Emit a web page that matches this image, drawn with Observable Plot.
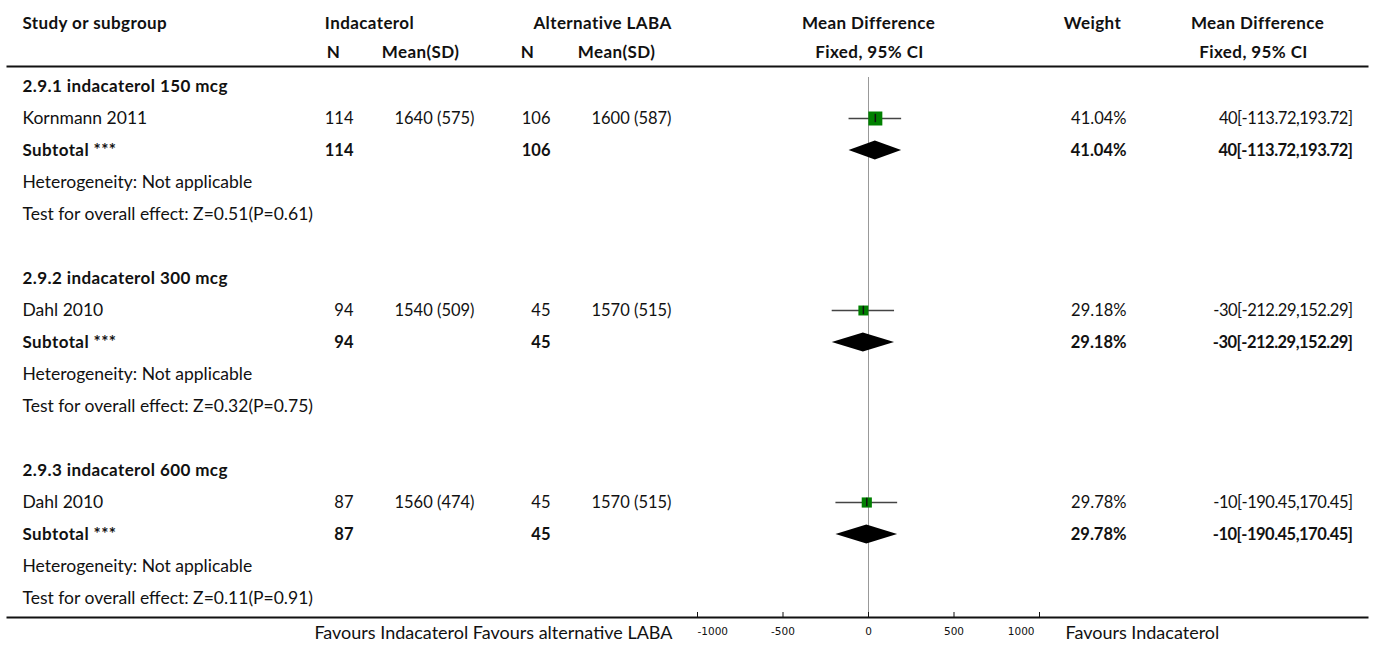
<!DOCTYPE html>
<html>
<head>
<meta charset="utf-8">
<script src="https://cdn.jsdelivr.net/npm/d3@7"></script>
<script src="https://cdn.jsdelivr.net/npm/@observablehq/plot@0.6"></script>
<style>
  html, body { margin: 0; padding: 0; background: #fff; }
  #chart svg { display: block; }
  /* tighter figures for the confidence-interval column, looser bold labels */
  g[aria-description="ci"] text { letter-spacing: -0.5px; }
  g[aria-description="bold-label"] text { letter-spacing: 0.4px; }
</style>
</head>
<body>
<div id="chart"></div>
<script>
// Comparison 2.9: indacaterol versus alternative LABA
const subgroupTitles = ["2.9.1 indacaterol 150 mcg", "2.9.2 indacaterol 300 mcg", "2.9.3 indacaterol 600 mcg"];
const studyNames = ["Kornmann 2011", "Dahl 2010", "Dahl 2010"];
const indacaterolN = [114, 94, 87];
const indacaterolMean = [1640, 1540, 1560];
const indacaterolSD = [575, 509, 474];
const alternativeN = [106, 45, 45];
const alternativeMean = [1600, 1570, 1570];
const alternativeSD = [587, 515, 515];
const meanDiff = [40, -30, -10];
const ciLow = [-113.72, -212.29, -190.45];
const ciHigh = [193.72, 152.29, 170.45];
const weights = [41.04, 29.18, 29.78];
const zValues = [0.51, 0.32, 0.11];
const pValues = [0.61, 0.75, 0.91];
const xTicks = [-1000, -500, 0, 500, 1000];
const leftFavours = "Favours Indacaterol Favours alternative LABA";
const rightFavours = "Favours Indacaterol";

// page layout
const W = 1375, H = 646;
const M = {left: 7, right: 8, top: 66, bottom: 29};
const FONT = "Lato";
const TEXT_SIZE = 17.5, NUM_SIZE = 16.5, BOLD_SIZE = 17;
const ROWS_PER_GROUP = 6;

const cols = {
  study:   {x: 22,   anchor: "start", size: TEXT_SIZE},
  indN:    {x: 353,  anchor: "end",   size: NUM_SIZE},
  indMean: {x: 474,  anchor: "end",   size: NUM_SIZE},
  altN:    {x: 550,  anchor: "end",   size: NUM_SIZE},
  altMean: {x: 671,  anchor: "end",   size: NUM_SIZE},
  weight:  {x: 1126, anchor: "end",   size: NUM_SIZE},
  ci:      {x: 1352, anchor: "end",   size: NUM_SIZE}
};

const headers = [
  {text: "Study or subgroup", x: 22,   y: 23, anchor: "start"},
  {text: "Indacaterol",       x: 369,  y: 23, anchor: "middle"},
  {text: "Alternative LABA",  x: 602,  y: 23, anchor: "middle"},
  {text: "Mean Difference",   x: 868,  y: 23, anchor: "middle"},
  {text: "Weight",            x: 1092, y: 23, anchor: "middle"},
  {text: "Mean Difference",   x: 1257, y: 23, anchor: "middle"},
  {text: "N",                 x: 333,  y: 52, anchor: "middle"},
  {text: "Mean(SD)",          x: 420,  y: 52, anchor: "middle"},
  {text: "N",                 x: 527,  y: 52, anchor: "middle"},
  {text: "Mean(SD)",          x: 616,  y: 52, anchor: "middle"},
  {text: "Fixed, 95% CI",     x: 869,  y: 52, anchor: "middle"},
  {text: "Fixed, 95% CI",     x: 1253, y: 52, anchor: "middle"}
];

// table cells and forest-plot records
const cells = [];
const studies = [];
const diamonds = [];
subgroupTitles.forEach((title, g) => {
  const r0 = g * ROWS_PER_GROUP;
  const ci = `${meanDiff[g]}[${ciLow[g].toFixed(2)},${ciHigh[g].toFixed(2)}]`;
  const w = `${weights[g].toFixed(2)}%`;
  cells.push({row: r0, col: "study", text: title, bold: true});
  // study row
  cells.push({row: r0 + 1, col: "study", text: studyNames[g]});
  cells.push({row: r0 + 1, col: "indN", text: String(indacaterolN[g])});
  cells.push({row: r0 + 1, col: "indMean", text: `${indacaterolMean[g]} (${indacaterolSD[g]})`});
  cells.push({row: r0 + 1, col: "altN", text: String(alternativeN[g])});
  cells.push({row: r0 + 1, col: "altMean", text: `${alternativeMean[g]} (${alternativeSD[g]})`});
  cells.push({row: r0 + 1, col: "weight", text: w});
  cells.push({row: r0 + 1, col: "ci", text: ci});
  // subtotal row
  cells.push({row: r0 + 2, col: "study", text: "Subtotal ***", bold: true});
  cells.push({row: r0 + 2, col: "indN", text: String(indacaterolN[g]), bold: true});
  cells.push({row: r0 + 2, col: "altN", text: String(alternativeN[g]), bold: true});
  cells.push({row: r0 + 2, col: "weight", text: w, bold: true});
  cells.push({row: r0 + 2, col: "ci", text: ci, bold: true});
  cells.push({row: r0 + 3, col: "study", text: "Heterogeneity: Not applicable"});
  cells.push({row: r0 + 4, col: "study", text: `Test for overall effect: Z=${zValues[g].toFixed(2)}(P=${pValues[g].toFixed(2)})`});

  studies.push({row: r0 + 1, md: meanDiff[g], lo: ciLow[g], hi: ciHigh[g], weight: weights[g]});
  const rs = r0 + 2, half = 0.3;
  diamonds.push({g, x: ciLow[g], y1: rs, y2: rs});
  diamonds.push({g, x: meanDiff[g], y1: rs - half, y2: rs + half});
  diamonds.push({g, x: ciHigh[g], y1: rs, y2: rs});
});
const lastRow = (subgroupTitles.length - 1) * ROWS_PER_GROUP + 4;

// one text mark per column and weight
const cellMarks = [];
for (const [key, c] of Object.entries(cols)) {
  for (const bold of [false, true]) {
    const data = cells.filter(d => d.col === key && !!d.bold === bold);
    if (!data.length) continue;
    cellMarks.push(Plot.text(data, {
      y: "row", text: "text", frameAnchor: "left",
      dx: c.x - M.left, textAnchor: c.anchor, lineAnchor: "middle",
      fontSize: bold && key === "study" ? BOLD_SIZE : c.size,
      fontWeight: bold ? "bold" : "normal", fill: "#111",
      ariaDescription: key === "ci" ? "ci" : (bold && key === "study" ? "bold-label" : key)
    }));
  }
}
const headerMarks = headers.map(h => Plot.text([h.text], {
  text: d => d, frameAnchor: "top-left", dx: h.x - M.left, dy: h.y - M.top,
  textAnchor: h.anchor, lineAnchor: "middle", fontWeight: "bold", fontSize: BOLD_SIZE,
  fill: "#111", ariaDescription: "bold-label"
}));

const frameH = H - M.top - M.bottom;
const tickText = {
  fontFamily: "DejaVu Sans", fontSize: 10.5, tickSize: 0, tickPadding: 10,
  label: null, fill: "#111", tickFormat: d => String(d)
};

const chart = Plot.plot({
  width: W, height: H,
  marginLeft: M.left, marginRight: M.right, marginTop: M.top, marginBottom: M.bottom,
  style: {fontFamily: FONT, fontSize: `${TEXT_SIZE}px`, background: "#fff", color: "#111"},
  x: {domain: [xTicks[0], xTicks[xTicks.length - 1]], range: [697, 1039], label: null},
  y: {domain: [0, lastRow], range: [86, 598], axis: null},
  r: {type: "linear", domain: [0, 100], range: [0, 19.25]},
  marks: [
    Plot.frame({anchor: "top", stroke: "#111", strokeWidth: 2}),
    Plot.frame({anchor: "bottom", stroke: "#111", strokeWidth: 2}),
    // line of no effect
    Plot.ruleX([0], {stroke: "#999", strokeWidth: 1, insetTop: 11}),
    // axis ticks pointing up from the baseline
    Plot.ruleX(xTicks, {stroke: "#111", strokeWidth: 1, insetTop: frameH - 5}),
    Plot.axisX({...tickText, ticks: xTicks.slice(1, -1)}),
    Plot.axisX({...tickText, ticks: [xTicks[0]], textAnchor: "start", dx: 0}),
    Plot.axisX({...tickText, ticks: [xTicks[xTicks.length - 1]], textAnchor: "end", dx: -5}),
    // confidence intervals, weighted squares and point ticks
    Plot.ruleY(studies, {y: "row", x1: "lo", x2: "hi", stroke: "#444", strokeWidth: 1.5}),
    Plot.dot(studies, {x: "md", y: "row", r: "weight", symbol: "square", fill: "#008000", stroke: null}),
    Plot.ruleX(studies, {x: "md", y1: d => d.row - 0.13, y2: d => d.row + 0.13, stroke: "#111", strokeWidth: 1.5}),
    // subtotal diamonds
    Plot.areaY(diamonds, {x: "x", y1: "y1", y2: "y2", z: "g", fill: "#000", curve: "linear"}),
    // favours labels beside the axis
    Plot.text([leftFavours], {text: d => d, x: () => xTicks[0], frameAnchor: "bottom", textAnchor: "end", lineAnchor: "middle", dx: -25, dy: 16, fontSize: 18, fill: "#111"}),
    Plot.text([rightFavours], {text: d => d, x: () => xTicks[xTicks.length - 1], frameAnchor: "bottom", textAnchor: "start", lineAnchor: "middle", dx: 26, dy: 16, fontSize: 18, fill: "#111"}),
    ...headerMarks,
    ...cellMarks
  ]
});
document.getElementById("chart").append(chart);
</script>
</body>
</html>
